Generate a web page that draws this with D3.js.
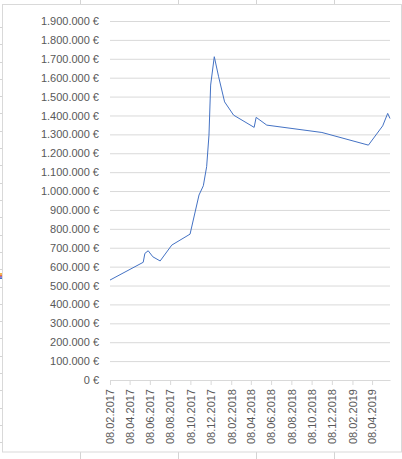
<!DOCTYPE html>
<meta charset="utf-8">
<head>
<style>
  body { margin:0; background:#fff; }
  text { font-family:"Liberation Sans", Arial, sans-serif; }
</style>
</head>
<script src="https://d3js.org/d3.v7.min.js"></script>
<div id="my_dataviz"></div>
<script>

// data
var dates = ["2017-02-08","2017-05-19","2017-05-24","2017-06-03","2017-06-17","2017-07-09",
  "2017-08-13","2017-10-07","2017-11-03","2017-11-16","2017-11-26","2017-12-03","2017-12-08",
  "2017-12-19","2018-01-01","2018-01-19","2018-02-15","2018-04-18","2018-04-24","2018-05-26",
  "2018-11-08","2019-03-28","2019-05-10","2019-05-25","2019-06-01"];
var values = [529000,623000,670000,684000,652000,630000,
  714000,772000,979000,1028000,1129000,1296000,1561000,
  1711000,1605000,1472000,1402000,1337000,1390000,1349000,
  1310000,1243000,1345000,1411000,1384000];
var yTicks = [0,100000,200000,300000,400000,500000,600000,700000,800000,900000,
  1000000,1100000,1200000,1300000,1400000,1500000,1600000,1700000,1800000,1900000];
var xTicks = ["2017-02-08","2017-04-08","2017-06-08","2017-08-08","2017-10-08","2017-12-08",
  "2018-02-08","2018-04-08","2018-06-08","2018-08-08","2018-10-08","2018-12-08",
  "2019-02-08","2019-04-08"];

var W = 402, H = 459;
var parse = d3.timeParse("%Y-%m-%d");
var data = dates.map(function(d, i) { return {date: parse(d), value: values[i]}; });

var svg = d3.select("#my_dataviz")
  .append("svg")
    .attr("width", W)
    .attr("height", H);

// spreadsheet cells peeking round the chart
var cellCols = [80, 178, 256, 334];
cellCols.forEach(function(cx) {
  svg.append("line").attr("x1", cx + 0.5).attr("x2", cx + 0.5).attr("y1", 0).attr("y2", 5)
    .attr("stroke", "#d4d4d4");
  svg.append("line").attr("x1", cx + 0.5).attr("x2", cx + 0.5).attr("y1", 452).attr("y2", H)
    .attr("stroke", "#d4d4d4");
});
for (var ry = 27; ry < 452; ry += 17.3) {
  svg.append("line").attr("x1", 0).attr("x2", 2).attr("y1", Math.round(ry) + 0.5).attr("y2", Math.round(ry) + 0.5)
    .attr("stroke", "#d4d4d4");
}
["#f4b942", "#ed7d31", "#a05fc0", "#4472c4"].forEach(function(c, i) {
  svg.append("rect").attr("x", 0).attr("y", 273 + i * 1.5).attr("width", 2).attr("height", 1.5).attr("fill", c);
});

// chart area
svg.append("rect")
  .attr("x", 2.5).attr("y", 4.5)
  .attr("width", 399).attr("height", 447.5)
  .attr("fill", "#fff")
  .attr("stroke", "#d9d9d9");

var x = d3.scaleTime()
  .domain([data[0].date, data[data.length - 1].date])
  .range([110, 390]);

var y = d3.scaleLinear()
  .domain([0, 1900000])
  .range([380, 21]);

var loc = d3.formatLocale({decimal: ",", thousands: ".", grouping: [3], currency: ["", " €"]});
var fmtY = loc.format("$,.0f");
var fmtX = d3.timeFormat("%d.%m.%Y");

// Y axis: gridlines + labels
var yAxis = svg.append("g")
  .attr("transform", "translate(110,0)")
  .call(d3.axisLeft(y).tickValues(yTicks).tickSize(-280).tickPadding(11).tickFormat(fmtY));
yAxis.select(".domain").remove();
yAxis.selectAll(".tick line").attr("stroke", "#d9d9d9");
yAxis.selectAll(".tick text").attr("fill", "#595959").style("font-size", "11px");

// X axis
var xAxis = svg.append("g")
  .attr("transform", "translate(0,380)")
  .call(d3.axisBottom(x).tickValues(xTicks.map(parse)).tickSize(5).tickSizeOuter(0).tickFormat(fmtX));
xAxis.select(".domain").attr("stroke", "#d9d9d9");
xAxis.selectAll(".tick line").attr("stroke", "#d9d9d9");
xAxis.selectAll(".tick text")
  .attr("fill", "#595959")
  .style("font-size", "11px")
  .attr("text-anchor", "end")
  .attr("transform", "rotate(-90)")
  .attr("x", -9)
  .attr("y", 0)
  .attr("dy", "0.35em");

// the line
svg.append("path")
  .datum(data)
  .attr("fill", "none")
  .attr("stroke", "#4472c4")
  .attr("stroke-width", 1)
  .attr("stroke-linejoin", "round")
  .attr("d", d3.line()
    .x(function(d) { return x(d.date); })
    .y(function(d) { return y(d.value); }));

</script>
